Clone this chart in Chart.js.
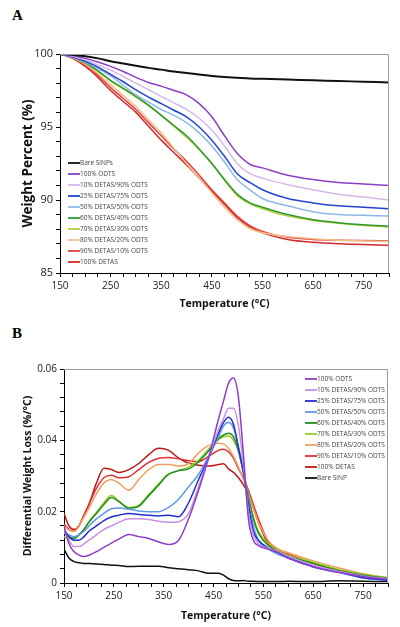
<!DOCTYPE html>
<html>
<head>
<meta charset="utf-8">
<script src="https://cdn.jsdelivr.net/npm/chart.js@4.4.1/dist/chart.umd.min.js"></script>
<style>
  body { margin: 0; background: #fff; width: 400px; height: 627px; position: relative; overflow: hidden; }
  .panel { position: absolute; font-family: "Liberation Serif", serif; font-weight: bold; font-size: 15px; color: #000; }
  canvas { position: absolute; left: 0; }
</style>
</head>
<body>
<div class="panel" style="left:12px; top:7px;">A</div>
<div class="panel" style="left:12px; top:325px;">B</div>
<canvas id="chartA" width="400" height="310" style="top:0"></canvas>
<canvas id="chartB" width="400" height="317" style="top:310px"></canvas>
<script>
// ---- panel A: TGA weight percent ----
const tempsA = [150, 175, 200, 225, 250, 275, 300, 325, 350, 375, 400, 425, 450, 475, 500, 525, 550, 600, 650, 700, 750, 800];
const bareA   = [100, 99.95, 99.85, 99.7, 99.5, 99.35, 99.2, 99.05, 98.93, 98.8, 98.7, 98.6, 98.5, 98.43, 98.38, 98.33, 98.3, 98.25, 98.2, 98.15, 98.1, 98.05];
const odtsA   = [100, 99.9, 99.7, 99.45, 99.15, 98.8, 98.4, 98.05, 97.8, 97.5, 97.2, 96.6, 95.7, 94.4, 93.2, 92.45, 92.2, 91.7, 91.4, 91.2, 91.1, 91.0];
const d10A    = [100, 99.85, 99.6, 99.25, 98.9, 98.45, 98.0, 97.55, 97.1, 96.65, 96.2, 95.6, 94.8, 93.7, 92.5, 91.8, 91.5, 91.05, 90.7, 90.4, 90.2, 90.0];
const d25A    = [100, 99.8, 99.5, 99.1, 98.6, 98.1, 97.55, 97.05, 96.6, 96.15, 95.7, 95.0, 94.1, 93.0, 91.8, 91.2, 90.7, 90.1, 89.8, 89.6, 89.5, 89.4];
const d50A    = [100, 99.8, 99.45, 99.0, 98.5, 97.85, 97.2, 96.7, 96.2, 95.8, 95.3, 94.6, 93.7, 92.6, 91.4, 90.7, 90.1, 89.6, 89.2, 89.0, 88.95, 88.9];
const d60A    = [100, 99.8, 99.4, 98.85, 98.2, 97.65, 97.1, 96.5, 95.8, 95.1, 94.4, 93.5, 92.5, 91.4, 90.4, 89.8, 89.5, 89.0, 88.65, 88.45, 88.3, 88.2];
const d70A    = [100, 99.8, 99.4, 98.8, 98.15, 97.6, 97.05, 96.45, 95.8, 95.05, 94.3, 93.45, 92.5, 91.35, 90.3, 89.75, 89.4, 88.9, 88.6, 88.4, 88.25, 88.15];
const d80A    = [100, 99.75, 99.3, 98.65, 97.9, 97.15, 96.4, 95.5, 94.6, 93.55, 92.5, 91.5, 90.5, 89.5, 88.65, 88.05, 87.75, 87.5, 87.35, 87.25, 87.2, 87.15];
const d90A    = [100, 99.75, 99.25, 98.55, 97.7, 96.95, 96.2, 95.3, 94.4, 93.5, 92.65, 91.7, 90.7, 89.8, 88.9, 88.25, 87.85, 87.45, 87.3, 87.25, 87.22, 87.2];
const detasA  = [100, 99.7, 99.15, 98.4, 97.5, 96.75, 96.0, 95.05, 94.1, 93.25, 92.4, 91.5, 90.6, 89.7, 88.8, 88.15, 87.75, 87.3, 87.1, 87.0, 86.95, 86.9];

// ---- panel B: differential weight loss ----
const tempsB = [150, 160, 170, 180, 190, 200, 215, 230, 245, 260, 280, 300, 320, 340, 360, 380, 400, 420, 440, 460, 470, 480, 490, 500, 510, 520, 530, 540, 560, 580, 600, 650, 700, 750, 800];
const odtsB  = [0.016, 0.011, 0.0088, 0.0078, 0.0074, 0.0078, 0.0088, 0.01, 0.0112, 0.0123, 0.0136, 0.013, 0.0125, 0.0115, 0.0108, 0.012, 0.018, 0.026, 0.035, 0.046, 0.051, 0.056, 0.0575, 0.052, 0.036, 0.018, 0.012, 0.0105, 0.0095, 0.0085, 0.007, 0.0045, 0.003, 0.0018, 0.001];
const d10B   = [0.015, 0.012, 0.0102, 0.0102, 0.011, 0.012, 0.0135, 0.015, 0.016, 0.017, 0.018, 0.018, 0.0178, 0.0173, 0.017, 0.0172, 0.0195, 0.027, 0.035, 0.043, 0.046, 0.049, 0.049, 0.044, 0.033, 0.02, 0.0135, 0.011, 0.0098, 0.0088, 0.0075, 0.005, 0.0033, 0.002, 0.0012];
const d25B   = [0.015, 0.013, 0.012, 0.012, 0.013, 0.0145, 0.016, 0.0175, 0.0185, 0.019, 0.0195, 0.0192, 0.019, 0.0188, 0.019, 0.0186, 0.0225, 0.029, 0.035, 0.042, 0.045, 0.0465, 0.0445, 0.038, 0.031, 0.022, 0.0145, 0.012, 0.0098, 0.0085, 0.007, 0.0048, 0.0032, 0.0015, 0.0008];
const d50B   = [0.014, 0.0135, 0.013, 0.0135, 0.0145, 0.016, 0.018, 0.0195, 0.0208, 0.021, 0.0207, 0.0202, 0.02, 0.02, 0.0212, 0.0235, 0.027, 0.0305, 0.0355, 0.041, 0.044, 0.045, 0.0435, 0.038, 0.031, 0.023, 0.016, 0.012, 0.0095, 0.008, 0.007, 0.0045, 0.003, 0.0015, 0.0008];
const d60B   = [0.014, 0.013, 0.0125, 0.0135, 0.015, 0.017, 0.0195, 0.022, 0.024, 0.0228, 0.021, 0.0215, 0.0245, 0.0275, 0.0305, 0.0315, 0.032, 0.034, 0.037, 0.0405, 0.0415, 0.042, 0.041, 0.037, 0.031, 0.024, 0.018, 0.014, 0.0105, 0.0088, 0.0075, 0.0055, 0.0035, 0.0022, 0.0013];
const d70B   = [0.013, 0.0125, 0.0125, 0.0135, 0.015, 0.0172, 0.0198, 0.0225, 0.0245, 0.023, 0.0212, 0.0218, 0.0248, 0.0278, 0.0305, 0.0315, 0.0325, 0.0345, 0.0375, 0.0402, 0.041, 0.0412, 0.04, 0.037, 0.031, 0.0245, 0.0185, 0.0145, 0.011, 0.009, 0.0078, 0.0058, 0.0038, 0.0024, 0.0015];
const d80B   = [0.016, 0.0148, 0.0145, 0.016, 0.0185, 0.021, 0.025, 0.028, 0.029, 0.028, 0.026, 0.029, 0.0318, 0.0332, 0.0332, 0.0328, 0.0335, 0.0365, 0.0385, 0.0392, 0.039, 0.0378, 0.0355, 0.0325, 0.029, 0.025, 0.021, 0.017, 0.0118, 0.0095, 0.0085, 0.0062, 0.0043, 0.0026, 0.0015];
const d90B   = [0.0165, 0.015, 0.0145, 0.016, 0.019, 0.022, 0.0265, 0.0295, 0.0302, 0.0295, 0.0298, 0.0318, 0.0338, 0.035, 0.0352, 0.0348, 0.0343, 0.034, 0.0355, 0.0372, 0.0375, 0.0368, 0.035, 0.032, 0.0295, 0.026, 0.022, 0.018, 0.0115, 0.009, 0.008, 0.0055, 0.0035, 0.002, 0.0012];
const detasB = [0.0195, 0.016, 0.015, 0.016, 0.019, 0.022, 0.028, 0.0322, 0.0318, 0.031, 0.0318, 0.0335, 0.036, 0.0378, 0.0372, 0.035, 0.0336, 0.033, 0.0328, 0.0332, 0.0334, 0.032, 0.031, 0.0295, 0.0275, 0.025, 0.021, 0.017, 0.011, 0.009, 0.008, 0.0055, 0.0035, 0.002, 0.001];
const bareB  = [0.0095, 0.007, 0.006, 0.0057, 0.0055, 0.0055, 0.0053, 0.0052, 0.005, 0.0049, 0.0046, 0.0047, 0.0047, 0.0047, 0.0043, 0.004, 0.0037, 0.0034, 0.0027, 0.0027, 0.0022, 0.0012, 0.0007, 0.0006, 0.0007, 0.0005, 0.0005, 0.0004, 0.0004, 0.0004, 0.0005, 0.0004, 0.0006, 0.0005, 0.0004];

const xTicks = [150, 250, 350, 450, 550, 650, 750];
const yTicksA = [85, 90, 95, 100];
const yTicksB = [0, 0.02, 0.04, 0.06];

function pts(xs, ys) {
    return xs.map((x, i) => ({ x: x, y: ys[i] }));
}

function series(label, xs, ys, color, width) {
    return {
        label: label,
        data: pts(xs, ys),
        borderColor: color,
        backgroundColor: color,
        borderWidth: width || 1.5,
        pointRadius: 0,
        cubicInterpolationMode: 'monotone',
        fill: false
    };
}

// small legend drawn inside the plot, plus grey top/right frame
function makeOverlay(legendX, legendY) {
    return {
        id: 'overlay',
        afterDatasetsDraw(chart) {
            const c = chart.ctx;
            const a = chart.chartArea;
            c.save();
            c.strokeStyle = '#9a9a9a';
            c.lineWidth = 1;
            c.beginPath();
            c.moveTo(a.left, a.top + 0.5);
            c.lineTo(a.right - 0.5, a.top + 0.5);
            c.lineTo(a.right - 0.5, a.bottom);
            c.stroke();

            c.font = '6.5px "Open Sans"';
            c.textBaseline = 'middle';
            c.fillStyle = '#444';
            chart.data.datasets.forEach(function (ds, i) {
                const y = legendY + i * 11;
                c.strokeStyle = ds.borderColor;
                c.lineWidth = 1.8;
                c.beginPath();
                c.moveTo(legendX, y);
                c.lineTo(legendX + 12, y);
                c.stroke();
                c.fillText(ds.label, legendX + 12, y);
            });
            c.restore();
        }
    };
}

// evenly spaced tick marks, labels only on the listed values
function stepTicks(from, to, step) {
    return function (s) {
        const t = [];
        const n = Math.round((to - from) / step);
        for (let i = 0; i <= n; i++) t.push({ value: +(from + i * step).toFixed(6) });
        s.ticks = t;
    };
}

function labelOnly(list) {
    return function (v) {
        const hit = list.find(t => Math.abs(t - v) < 1e-9);
        return hit === undefined ? '' : String(hit);
    };
}

function xScale(height, padBottom) {
    return {
        type: 'linear',
        min: 150,
        max: 800,
        afterFit: function (s) { s.height = height; },
        afterBuildTicks: stepTicks(150, 800, 25),
        ticks: {
            autoSkip: false,
            maxRotation: 0,
            color: '#222',
            padding: 3,
            font: { family: 'Open Sans', size: 10 },
            callback: labelOnly(xTicks)
        },
        grid: { drawOnChartArea: false, tickLength: 4, color: '#000' },
        border: { color: '#000', width: 1 },
        title: {
            display: true,
            text: 'Temperature (°C)',
            color: '#111',
            font: { family: 'Open Sans', size: 10.5, weight: 'bold' },
            padding: { top: 2, bottom: padBottom }
        }
    };
}

new Chart(document.getElementById('chartA'), {
    type: 'line',
    data: {
        datasets: [
            series('Bare SiNPs', tempsA, bareA, '#111111', 2),
            series('100% ODTS', tempsA, odtsA, '#8a3fc8'),
            series('10% DETAS/90% ODTS', tempsA, d10A, '#d4b8ea'),
            series('25% DETAS/75% ODTS', tempsA, d25A, '#2444d0'),
            series('50% DETAS/50% ODTS', tempsA, d50A, '#8fb8e8'),
            series('60% DETAS/40% ODTS', tempsA, d60A, '#2e9a2e'),
            series('70% DETAS/30% ODTS', tempsA, d70A, '#b8d040'),
            series('80% DETAS/20% ODTS', tempsA, d80A, '#f2c088'),
            series('90% DETAS/10% ODTS', tempsA, d90A, '#e04040'),
            series('100% DETAS', tempsA, detasA, '#d42a2a')
        ]
    },
    options: {
        responsive: false,
        animation: false,
        layout: { padding: { left: 16, right: 11, top: 54, bottom: 0 } },
        plugins: { legend: { display: false }, tooltip: { enabled: false } },
        scales: {
            x: xScale(37, 0),
            y: {
                min: 85,
                max: 100,
                afterFit: function (s) { s.width = 44; },
                afterBuildTicks: stepTicks(85, 100, 1),
                ticks: {
                    autoSkip: false,
                    color: '#222',
                    padding: 3,
                    font: { family: 'Open Sans', size: 11 },
                    callback: labelOnly(yTicksA)
                },
                grid: { drawOnChartArea: false, tickLength: 4, color: '#000' },
                border: { color: '#000', width: 1 },
                title: {
                    display: true,
                    text: 'Weight Percent (%)',
                    color: '#111',
                    font: { family: 'Open Sans', size: 13.5, weight: 'bold' },
                    padding: { bottom: 0 }
                }
            }
        }
    },
    plugins: [makeOverlay(68, 163)]
});

new Chart(document.getElementById('chartB'), {
    type: 'line',
    data: {
        datasets: [
            series('100% ODTS', tempsB, odtsB, '#8a3fc8'),
            series('10% DETAS/90% ODTS', tempsB, d10B, '#c890e0'),
            series('25% DETAS/75% ODTS', tempsB, d25B, '#2030d0'),
            series('50% DETAS/50% ODTS', tempsB, d50B, '#5f9ae6'),
            series('60% DETAS/40% ODTS', tempsB, d60B, '#1f8f1f'),
            series('70% DETAS/30% ODTS', tempsB, d70B, '#98cc20'),
            series('80% DETAS/20% ODTS', tempsB, d80B, '#f0a060'),
            series('90% DETAS/10% ODTS', tempsB, d90B, '#e03030'),
            series('100% DETAS', tempsB, detasB, '#c01818'),
            series('Bare SiNP', tempsB, bareB, '#111111')
        ]
    },
    options: {
        responsive: false,
        animation: false,
        layout: { padding: { left: 18, right: 12, top: 59, bottom: 0 } },
        plugins: { legend: { display: false }, tooltip: { enabled: false } },
        scales: {
            x: xScale(44, 5),
            y: {
                min: 0,
                max: 0.06,
                afterFit: function (s) { s.width = 46; },
                afterBuildTicks: stepTicks(0, 0.06, 0.004),
                ticks: {
                    autoSkip: false,
                    color: '#222',
                    padding: 3,
                    font: { family: 'Open Sans', size: 10 },
                    callback: labelOnly(yTicksB)
                },
                grid: { drawOnChartArea: false, tickLength: 4, color: '#000' },
                border: { color: '#000', width: 1 },
                title: {
                    display: true,
                    text: 'Differential Weight Loss (%/°C)',
                    color: '#111',
                    font: { family: 'Open Sans', size: 10.5, weight: 'bold' },
                    padding: { bottom: 0 }
                }
            }
        }
    },
    plugins: [makeOverlay(305, 69)]
});
</script>
</body>
</html>
